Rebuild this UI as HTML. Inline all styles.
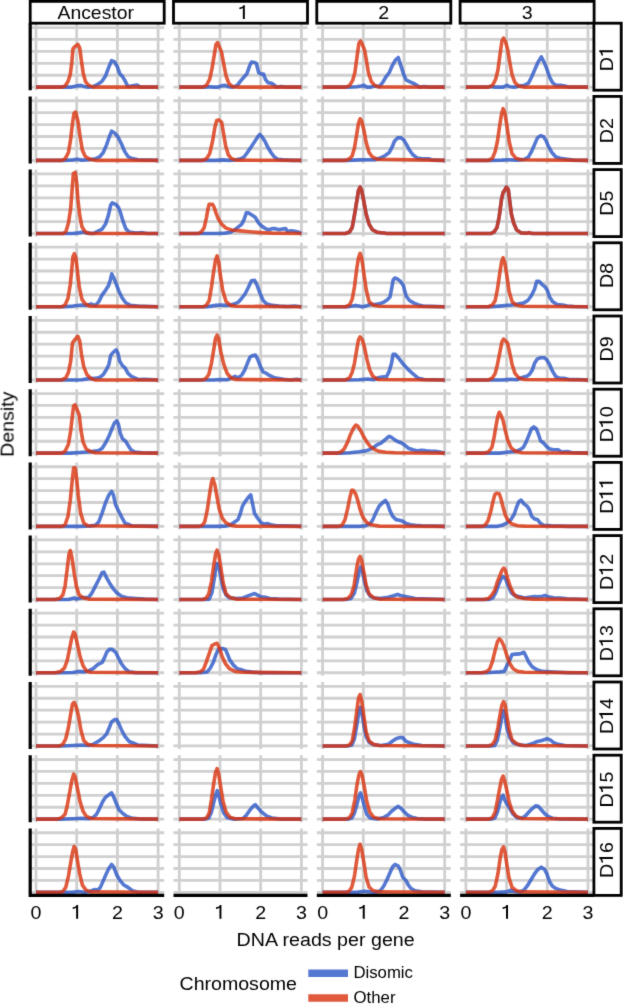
<!DOCTYPE html><html><head><meta charset="utf-8"><style>html,body{margin:0;padding:0;background:#fff;}#w{width:623px;height:1004px;overflow:hidden;}svg{display:block;}text{font-family:"Liberation Sans",sans-serif;fill:#000;}</style></head><body>
<div id="w">
<svg width="623" height="1004" viewBox="0 0 623 1004">
<defs><filter id="bl" x="0" y="0" width="1" height="1" color-interpolation-filters="sRGB"><feConvolveMatrix order="3" kernelMatrix="0.0113 0.0838 0.0113 0.0838 0.6193 0.0838 0.0113 0.0838 0.0113" divisor="1" edgeMode="duplicate"/></filter></defs>
<g filter="url(#bl)">
<rect x="0" y="0" width="623" height="1004" fill="#fff"/>
<path d="M30.2 87.15H164.2M30.2 75.23H164.2M30.2 63.31H164.2M30.2 51.39H164.2M30.2 39.47H164.2M30.2 27.55H164.2M36 23.2V90.2M76.7 23.2V90.2M117.4 23.2V90.2M158.1 23.2V90.2M173.5 87.15H307.5M173.5 75.23H307.5M173.5 63.31H307.5M173.5 51.39H307.5M173.5 39.47H307.5M173.5 27.55H307.5M179.3 23.2V90.2M220 23.2V90.2M260.7 23.2V90.2M301.4 23.2V90.2M316.8 87.15H450.8M316.8 75.23H450.8M316.8 63.31H450.8M316.8 51.39H450.8M316.8 39.47H450.8M316.8 27.55H450.8M322.6 23.2V90.2M363.3 23.2V90.2M404 23.2V90.2M444.7 23.2V90.2M460.1 87.15H594.1M460.1 75.23H594.1M460.1 63.31H594.1M460.1 51.39H594.1M460.1 39.47H594.1M460.1 27.55H594.1M465.9 23.2V90.2M506.6 23.2V90.2M547.3 23.2V90.2M588 23.2V90.2M30.2 160.35H164.2M30.2 148.43H164.2M30.2 136.51H164.2M30.2 124.59H164.2M30.2 112.67H164.2M30.2 100.75H164.2M36 96.4V163.4M76.7 96.4V163.4M117.4 96.4V163.4M158.1 96.4V163.4M173.5 160.35H307.5M173.5 148.43H307.5M173.5 136.51H307.5M173.5 124.59H307.5M173.5 112.67H307.5M173.5 100.75H307.5M179.3 96.4V163.4M220 96.4V163.4M260.7 96.4V163.4M301.4 96.4V163.4M316.8 160.35H450.8M316.8 148.43H450.8M316.8 136.51H450.8M316.8 124.59H450.8M316.8 112.67H450.8M316.8 100.75H450.8M322.6 96.4V163.4M363.3 96.4V163.4M404 96.4V163.4M444.7 96.4V163.4M460.1 160.35H594.1M460.1 148.43H594.1M460.1 136.51H594.1M460.1 124.59H594.1M460.1 112.67H594.1M460.1 100.75H594.1M465.9 96.4V163.4M506.6 96.4V163.4M547.3 96.4V163.4M588 96.4V163.4M30.2 233.55H164.2M30.2 221.63H164.2M30.2 209.71H164.2M30.2 197.79H164.2M30.2 185.87H164.2M30.2 173.95H164.2M36 169.6V236.6M76.7 169.6V236.6M117.4 169.6V236.6M158.1 169.6V236.6M173.5 233.55H307.5M173.5 221.63H307.5M173.5 209.71H307.5M173.5 197.79H307.5M173.5 185.87H307.5M173.5 173.95H307.5M179.3 169.6V236.6M220 169.6V236.6M260.7 169.6V236.6M301.4 169.6V236.6M316.8 233.55H450.8M316.8 221.63H450.8M316.8 209.71H450.8M316.8 197.79H450.8M316.8 185.87H450.8M316.8 173.95H450.8M322.6 169.6V236.6M363.3 169.6V236.6M404 169.6V236.6M444.7 169.6V236.6M460.1 233.55H594.1M460.1 221.63H594.1M460.1 209.71H594.1M460.1 197.79H594.1M460.1 185.87H594.1M460.1 173.95H594.1M465.9 169.6V236.6M506.6 169.6V236.6M547.3 169.6V236.6M588 169.6V236.6M30.2 306.75H164.2M30.2 294.83H164.2M30.2 282.91H164.2M30.2 270.99H164.2M30.2 259.07H164.2M30.2 247.15H164.2M36 242.8V309.8M76.7 242.8V309.8M117.4 242.8V309.8M158.1 242.8V309.8M173.5 306.75H307.5M173.5 294.83H307.5M173.5 282.91H307.5M173.5 270.99H307.5M173.5 259.07H307.5M173.5 247.15H307.5M179.3 242.8V309.8M220 242.8V309.8M260.7 242.8V309.8M301.4 242.8V309.8M316.8 306.75H450.8M316.8 294.83H450.8M316.8 282.91H450.8M316.8 270.99H450.8M316.8 259.07H450.8M316.8 247.15H450.8M322.6 242.8V309.8M363.3 242.8V309.8M404 242.8V309.8M444.7 242.8V309.8M460.1 306.75H594.1M460.1 294.83H594.1M460.1 282.91H594.1M460.1 270.99H594.1M460.1 259.07H594.1M460.1 247.15H594.1M465.9 242.8V309.8M506.6 242.8V309.8M547.3 242.8V309.8M588 242.8V309.8M30.2 379.95H164.2M30.2 368.03H164.2M30.2 356.11H164.2M30.2 344.19H164.2M30.2 332.27H164.2M30.2 320.35H164.2M36 316V383M76.7 316V383M117.4 316V383M158.1 316V383M173.5 379.95H307.5M173.5 368.03H307.5M173.5 356.11H307.5M173.5 344.19H307.5M173.5 332.27H307.5M173.5 320.35H307.5M179.3 316V383M220 316V383M260.7 316V383M301.4 316V383M316.8 379.95H450.8M316.8 368.03H450.8M316.8 356.11H450.8M316.8 344.19H450.8M316.8 332.27H450.8M316.8 320.35H450.8M322.6 316V383M363.3 316V383M404 316V383M444.7 316V383M460.1 379.95H594.1M460.1 368.03H594.1M460.1 356.11H594.1M460.1 344.19H594.1M460.1 332.27H594.1M460.1 320.35H594.1M465.9 316V383M506.6 316V383M547.3 316V383M588 316V383M30.2 453.15H164.2M30.2 441.23H164.2M30.2 429.31H164.2M30.2 417.39H164.2M30.2 405.47H164.2M30.2 393.55H164.2M36 389.2V456.2M76.7 389.2V456.2M117.4 389.2V456.2M158.1 389.2V456.2M173.5 453.15H307.5M173.5 441.23H307.5M173.5 429.31H307.5M173.5 417.39H307.5M173.5 405.47H307.5M173.5 393.55H307.5M179.3 389.2V456.2M220 389.2V456.2M260.7 389.2V456.2M301.4 389.2V456.2M316.8 453.15H450.8M316.8 441.23H450.8M316.8 429.31H450.8M316.8 417.39H450.8M316.8 405.47H450.8M316.8 393.55H450.8M322.6 389.2V456.2M363.3 389.2V456.2M404 389.2V456.2M444.7 389.2V456.2M460.1 453.15H594.1M460.1 441.23H594.1M460.1 429.31H594.1M460.1 417.39H594.1M460.1 405.47H594.1M460.1 393.55H594.1M465.9 389.2V456.2M506.6 389.2V456.2M547.3 389.2V456.2M588 389.2V456.2M30.2 526.35H164.2M30.2 514.43H164.2M30.2 502.51H164.2M30.2 490.59H164.2M30.2 478.67H164.2M30.2 466.75H164.2M36 462.4V529.4M76.7 462.4V529.4M117.4 462.4V529.4M158.1 462.4V529.4M173.5 526.35H307.5M173.5 514.43H307.5M173.5 502.51H307.5M173.5 490.59H307.5M173.5 478.67H307.5M173.5 466.75H307.5M179.3 462.4V529.4M220 462.4V529.4M260.7 462.4V529.4M301.4 462.4V529.4M316.8 526.35H450.8M316.8 514.43H450.8M316.8 502.51H450.8M316.8 490.59H450.8M316.8 478.67H450.8M316.8 466.75H450.8M322.6 462.4V529.4M363.3 462.4V529.4M404 462.4V529.4M444.7 462.4V529.4M460.1 526.35H594.1M460.1 514.43H594.1M460.1 502.51H594.1M460.1 490.59H594.1M460.1 478.67H594.1M460.1 466.75H594.1M465.9 462.4V529.4M506.6 462.4V529.4M547.3 462.4V529.4M588 462.4V529.4M30.2 599.55H164.2M30.2 587.63H164.2M30.2 575.71H164.2M30.2 563.79H164.2M30.2 551.87H164.2M30.2 539.95H164.2M36 535.6V602.6M76.7 535.6V602.6M117.4 535.6V602.6M158.1 535.6V602.6M173.5 599.55H307.5M173.5 587.63H307.5M173.5 575.71H307.5M173.5 563.79H307.5M173.5 551.87H307.5M173.5 539.95H307.5M179.3 535.6V602.6M220 535.6V602.6M260.7 535.6V602.6M301.4 535.6V602.6M316.8 599.55H450.8M316.8 587.63H450.8M316.8 575.71H450.8M316.8 563.79H450.8M316.8 551.87H450.8M316.8 539.95H450.8M322.6 535.6V602.6M363.3 535.6V602.6M404 535.6V602.6M444.7 535.6V602.6M460.1 599.55H594.1M460.1 587.63H594.1M460.1 575.71H594.1M460.1 563.79H594.1M460.1 551.87H594.1M460.1 539.95H594.1M465.9 535.6V602.6M506.6 535.6V602.6M547.3 535.6V602.6M588 535.6V602.6M30.2 672.75H164.2M30.2 660.83H164.2M30.2 648.91H164.2M30.2 636.99H164.2M30.2 625.07H164.2M30.2 613.15H164.2M36 608.8V675.8M76.7 608.8V675.8M117.4 608.8V675.8M158.1 608.8V675.8M173.5 672.75H307.5M173.5 660.83H307.5M173.5 648.91H307.5M173.5 636.99H307.5M173.5 625.07H307.5M173.5 613.15H307.5M179.3 608.8V675.8M220 608.8V675.8M260.7 608.8V675.8M301.4 608.8V675.8M316.8 672.75H450.8M316.8 660.83H450.8M316.8 648.91H450.8M316.8 636.99H450.8M316.8 625.07H450.8M316.8 613.15H450.8M322.6 608.8V675.8M363.3 608.8V675.8M404 608.8V675.8M444.7 608.8V675.8M460.1 672.75H594.1M460.1 660.83H594.1M460.1 648.91H594.1M460.1 636.99H594.1M460.1 625.07H594.1M460.1 613.15H594.1M465.9 608.8V675.8M506.6 608.8V675.8M547.3 608.8V675.8M588 608.8V675.8M30.2 745.95H164.2M30.2 734.03H164.2M30.2 722.11H164.2M30.2 710.19H164.2M30.2 698.27H164.2M30.2 686.35H164.2M36 682V749M76.7 682V749M117.4 682V749M158.1 682V749M173.5 745.95H307.5M173.5 734.03H307.5M173.5 722.11H307.5M173.5 710.19H307.5M173.5 698.27H307.5M173.5 686.35H307.5M179.3 682V749M220 682V749M260.7 682V749M301.4 682V749M316.8 745.95H450.8M316.8 734.03H450.8M316.8 722.11H450.8M316.8 710.19H450.8M316.8 698.27H450.8M316.8 686.35H450.8M322.6 682V749M363.3 682V749M404 682V749M444.7 682V749M460.1 745.95H594.1M460.1 734.03H594.1M460.1 722.11H594.1M460.1 710.19H594.1M460.1 698.27H594.1M460.1 686.35H594.1M465.9 682V749M506.6 682V749M547.3 682V749M588 682V749M30.2 819.15H164.2M30.2 807.23H164.2M30.2 795.31H164.2M30.2 783.39H164.2M30.2 771.47H164.2M30.2 759.55H164.2M36 755.2V822.2M76.7 755.2V822.2M117.4 755.2V822.2M158.1 755.2V822.2M173.5 819.15H307.5M173.5 807.23H307.5M173.5 795.31H307.5M173.5 783.39H307.5M173.5 771.47H307.5M173.5 759.55H307.5M179.3 755.2V822.2M220 755.2V822.2M260.7 755.2V822.2M301.4 755.2V822.2M316.8 819.15H450.8M316.8 807.23H450.8M316.8 795.31H450.8M316.8 783.39H450.8M316.8 771.47H450.8M316.8 759.55H450.8M322.6 755.2V822.2M363.3 755.2V822.2M404 755.2V822.2M444.7 755.2V822.2M460.1 819.15H594.1M460.1 807.23H594.1M460.1 795.31H594.1M460.1 783.39H594.1M460.1 771.47H594.1M460.1 759.55H594.1M465.9 755.2V822.2M506.6 755.2V822.2M547.3 755.2V822.2M588 755.2V822.2M30.2 892.35H164.2M30.2 880.43H164.2M30.2 868.51H164.2M30.2 856.59H164.2M30.2 844.67H164.2M30.2 832.75H164.2M36 828.4V895.4M76.7 828.4V895.4M117.4 828.4V895.4M158.1 828.4V895.4M173.5 892.35H307.5M173.5 880.43H307.5M173.5 868.51H307.5M173.5 856.59H307.5M173.5 844.67H307.5M173.5 832.75H307.5M179.3 828.4V895.4M220 828.4V895.4M260.7 828.4V895.4M301.4 828.4V895.4M316.8 892.35H450.8M316.8 880.43H450.8M316.8 868.51H450.8M316.8 856.59H450.8M316.8 844.67H450.8M316.8 832.75H450.8M322.6 828.4V895.4M363.3 828.4V895.4M404 828.4V895.4M444.7 828.4V895.4M460.1 892.35H594.1M460.1 880.43H594.1M460.1 868.51H594.1M460.1 856.59H594.1M460.1 844.67H594.1M460.1 832.75H594.1M465.9 828.4V895.4M506.6 828.4V895.4M547.3 828.4V895.4M588 828.4V895.4" stroke="#d0d0d0" stroke-width="2.8" fill="none"/>
<path d="M36 87.15 L63.96 87.15 L70.7 87.15 L76.31 86.03 L80.81 85.35 L84.18 86.48 L88.22 87.15 L93.17 86.7 L97.66 84.45 L102.16 81.08 L105.53 75.91 L108.45 68.05 L111.6 60.63 L114.52 61.98 L117.44 66.93 L119.69 73.67 L122.38 76.36 L125.08 80.86 L128 86.7 L132.49 85.8 L136.99 85.13 L140.36 87.15 L158.1 87.15" stroke="rgb(43,86,199)" stroke-opacity="0.8" stroke-width="3.6" fill="none" stroke-linejoin="round" stroke-linecap="butt"/>
<path d="M36 87.15 L61.71 87.15 L65.08 86.03 L68 81.53 L70.25 74.79 L71.82 62.43 L72.94 48.95 L75.19 46.25 L77.89 44.45 L79.69 47.82 L81.48 61.31 L83.28 73.67 L85.53 81.53 L88.67 85.35 L93.17 87.15 L158.1 87.15" stroke="rgb(217,49,11)" stroke-opacity="0.8" stroke-width="3.6" fill="none" stroke-linejoin="round" stroke-linecap="butt"/>
<path d="M179.3 87.15 L204.71 87.15 L210.33 86.7 L213.7 87.15 L218.19 87.15 L221.56 85.8 L224.93 85.35 L228.3 86.7 L232.8 87.15 L237.29 85.35 L240.66 80.86 L244.03 77.04 L246.96 73.67 L249.65 65.8 L251.45 61.98 L254.6 62.43 L256.39 63.55 L258.64 72.54 L260.89 74.12 L263.58 74.12 L265.38 79.28 L268.08 82.66 L271 83.11 L273.92 84.9 L276.62 87.15 L281.11 86.48 L285.61 87.15 L301.4 87.15" stroke="rgb(43,86,199)" stroke-opacity="0.8" stroke-width="3.6" fill="none" stroke-linejoin="round" stroke-linecap="butt"/>
<path d="M179.3 87.15 L202.46 87.15 L206.51 85.35 L209.65 79.28 L211.9 69.17 L214.15 55.69 L215.94 44.45 L217.52 42.66 L219.31 46.7 L221.56 52.32 L223.81 64.68 L226.06 75.91 L228.98 83.78 L232.8 86.7 L238.42 87.15 L301.4 87.15" stroke="rgb(217,49,11)" stroke-opacity="0.8" stroke-width="3.6" fill="none" stroke-linejoin="round" stroke-linecap="butt"/>
<path d="M322.6 87.15 L347.71 87.15 L356.7 86.7 L361.19 86.03 L363.89 85.35 L366.81 87.15 L370.18 87.15 L374.22 86.03 L379.17 86.7 L382.54 82.66 L385.91 77.04 L389.28 72.54 L392.2 65.8 L395.35 60.18 L398.27 57.49 L400.52 64.68 L403.44 73.67 L406.13 79.96 L409.51 81.53 L412.88 83.11 L416.25 84.9 L419.62 87.15 L424.11 86.48 L428.61 87.15 L444.7 87.15" stroke="rgb(43,86,199)" stroke-opacity="0.8" stroke-width="3.6" fill="none" stroke-linejoin="round" stroke-linecap="butt"/>
<path d="M322.6 87.15 L345.46 87.15 L349.51 85.58 L352.65 80.41 L354.9 72.54 L357.15 55.69 L358.94 43.33 L360.52 41.08 L362.31 44.45 L364.56 50.07 L366.36 60.18 L368.38 72.54 L371.3 81.53 L374.67 85.35 L379.17 86.93 L444.7 87.15" stroke="rgb(217,49,11)" stroke-opacity="0.8" stroke-width="3.6" fill="none" stroke-linejoin="round" stroke-linecap="butt"/>
<path d="M465.9 87.15 L486.21 87.15 L490.71 86.48 L495.2 87.15 L503.07 87.15 L506.89 85.35 L509.81 86.7 L514.3 87.15 L519.92 86.03 L524.42 85.35 L528.46 83.11 L531.61 77.04 L534.53 70.3 L537.9 62.43 L541.27 56.81 L544.19 62.43 L546.89 69.17 L549.58 77.04 L552.51 82.66 L555.88 85.35 L560.37 85.35 L564.87 86.03 L569.36 87.15 L588 87.15" stroke="rgb(43,86,199)" stroke-opacity="0.8" stroke-width="3.6" fill="none" stroke-linejoin="round" stroke-linecap="butt"/>
<path d="M465.9 87.15 L488.46 87.15 L492.51 85.35 L495.65 79.28 L497.9 70.3 L500.15 53.44 L501.94 41.08 L503.52 38.16 L505.31 41.08 L507.56 48.95 L509.81 62.43 L512.06 74.79 L514.98 82.66 L518.8 86.03 L524.42 87.15 L588 87.15" stroke="rgb(217,49,11)" stroke-opacity="0.8" stroke-width="3.6" fill="none" stroke-linejoin="round" stroke-linecap="butt"/>
<path d="M36 160.35 L63.96 160.35 L72.94 159.9 L77.44 159.23 L81.93 160.13 L88.67 159.68 L95.42 158.78 L99.91 156.53 L103.28 152.48 L106.65 144.62 L109.35 136.75 L111.6 131.14 L114.52 132.93 L117.89 136.75 L121.26 143.5 L124.63 151.36 L128 156.53 L131.37 158.33 L138.11 159.68 L158.1 160.35" stroke="rgb(43,86,199)" stroke-opacity="0.8" stroke-width="3.6" fill="none" stroke-linejoin="round" stroke-linecap="butt"/>
<path d="M36 160.35 L61.71 160.35 L65.08 158.78 L68.45 152.48 L70.7 139 L72.49 123.27 L74.07 113.16 L75.64 112.04 L77.89 121.02 L80.13 136.75 L82.38 150.24 L85.3 156.53 L89.8 159.23 L95.42 160.35 L158.1 160.35" stroke="rgb(217,49,11)" stroke-opacity="0.8" stroke-width="3.6" fill="none" stroke-linejoin="round" stroke-linecap="butt"/>
<path d="M179.3 160.35 L204.71 160.35 L215.94 160.35 L222.69 159.9 L229.43 160.35 L236.17 159.68 L240.66 158.78 L244.03 156.98 L247.4 152.48 L250.78 147.54 L254.15 142.37 L257.52 137.2 L259.76 134.51 L262.01 136.75 L264.93 141.25 L267.63 146.87 L271 152.48 L274.37 156.98 L277.74 159.23 L283.36 159.9 L292.35 160.35 L301.4 160.35" stroke="rgb(43,86,199)" stroke-opacity="0.8" stroke-width="3.6" fill="none" stroke-linejoin="round" stroke-linecap="butt"/>
<path d="M179.3 160.35 L202.46 160.35 L206.51 158.78 L209.65 153.61 L212.57 141.25 L214.82 127.77 L216.62 120.57 L218.64 119.9 L221.56 122.15 L223.36 132.26 L225.61 145.74 L228.3 154.73 L231.67 158.78 L236.17 160.13 L301.4 160.35" stroke="rgb(217,49,11)" stroke-opacity="0.8" stroke-width="3.6" fill="none" stroke-linejoin="round" stroke-linecap="butt"/>
<path d="M322.6 160.35 L347.71 160.35 L358.94 159.9 L367.93 159.68 L374.67 159.68 L380.29 158.1 L384.79 155.86 L389.28 152.48 L392.2 146.87 L394.45 141.25 L397.6 137.88 L401.19 137.88 L403.89 140.13 L406.58 144.62 L409.51 150.24 L412.88 154.73 L417.37 158.1 L421.87 158.78 L428.61 158.78 L433.1 160.13 L444.7 160.35" stroke="rgb(43,86,199)" stroke-opacity="0.8" stroke-width="3.6" fill="none" stroke-linejoin="round" stroke-linecap="butt"/>
<path d="M322.6 160.35 L345.46 160.35 L349.51 158.78 L352.2 155.86 L354.45 147.99 L356.7 134.51 L358.49 123.27 L360.07 118.78 L361.64 121.02 L363.89 130.01 L366.13 142.37 L369.06 152.48 L372.43 156.98 L376.92 159.23 L444.7 160.35" stroke="rgb(217,49,11)" stroke-opacity="0.8" stroke-width="3.6" fill="none" stroke-linejoin="round" stroke-linecap="butt"/>
<path d="M465.9 160.35 L490.71 160.35 L501.94 160.13 L508.69 159.68 L517.67 160.13 L524.42 159.23 L528.46 156.98 L531.61 151.36 L534.53 144.62 L537.45 137.88 L540.6 135.63 L543.52 136.75 L545.76 140.13 L548.69 146.87 L551.83 152.48 L555.88 156.98 L560.37 158.33 L567.11 159.23 L573.85 160.13 L588 160.35" stroke="rgb(43,86,199)" stroke-opacity="0.8" stroke-width="3.6" fill="none" stroke-linejoin="round" stroke-linecap="butt"/>
<path d="M465.9 160.35 L488.46 160.35 L492.51 158.1 L495.2 151.36 L497.45 141.25 L499.7 125.52 L501.49 114.28 L503.07 108.66 L504.64 112.04 L506.89 125.52 L509.13 141.25 L512.06 153.61 L515.88 158.1 L521.04 159.68 L588 160.35" stroke="rgb(217,49,11)" stroke-opacity="0.8" stroke-width="3.6" fill="none" stroke-linejoin="round" stroke-linecap="butt"/>
<path d="M36 233.55 L63.96 233.55 L72.94 233.55 L78.56 232.88 L83.06 231.98 L86.88 233.1 L93.17 233.55 L97.66 231.3 L102.16 229.06 L105.53 224.11 L108.45 215.12 L110.7 205.01 L112.27 202.76 L115.64 204.34 L118.34 207.26 L120.58 212.88 L122.83 220.74 L125.75 228.61 L129.12 231.98 L135.87 233.1 L142.61 232.65 L147.1 233.55 L158.1 233.55" stroke="rgb(43,86,199)" stroke-opacity="0.8" stroke-width="3.6" fill="none" stroke-linejoin="round" stroke-linecap="butt"/>
<path d="M36 233.55 L62.83 233.55 L65.75 231.98 L68.45 222.99 L70.7 208.38 L72.04 190.4 L73.39 173.55 L75.19 172.43 L76.54 181.42 L77.89 199.39 L79.69 215.12 L81.93 226.81 L85.3 231.98 L89.8 233.55 L158.1 233.55" stroke="rgb(217,49,11)" stroke-opacity="0.8" stroke-width="3.6" fill="none" stroke-linejoin="round" stroke-linecap="butt"/>
<path d="M179.3 233.55 L204.71 233.55 L215.94 233.55 L224.93 233.1 L230.55 232.2 L235.04 229.73 L238.42 226.81 L241.79 224.11 L244.03 219.62 L246.28 212.88 L248.53 212.88 L251.9 215.12 L255.27 217.37 L258.64 222.99 L262.01 226.36 L265.38 228.61 L268.75 229.73 L272.12 228.61 L275.49 228.61 L278.87 229.73 L282.24 229.06 L285.61 228.61 L287.85 231.53 L291.22 230.85 L294.6 231.3 L297.97 231.98 L301.4 233.55" stroke="rgb(43,86,199)" stroke-opacity="0.8" stroke-width="3.6" fill="none" stroke-linejoin="round" stroke-linecap="butt"/>
<path d="M179.3 233.55 L197.97 233.55 L201.34 231.98 L204.26 227.48 L206.51 217.37 L208.08 208.38 L209.2 204.34 L212.57 204.34 L214.15 207.26 L215.94 212.88 L218.19 218.49 L221.56 224.11 L226.06 228.16 L231.67 229.95 L240.66 230.85 L249.65 231.75 L260.89 232.65 L272.12 233.1 L301.4 233.55" stroke="rgb(217,49,11)" stroke-opacity="0.8" stroke-width="3.6" fill="none" stroke-linejoin="round" stroke-linecap="butt"/>
<path d="M322.6 233.55 L345.46 233.55 L349.51 231.98 L352.2 227.48 L354.45 215.12 L356.7 201.64 L358.49 190.4 L360.07 187.03 L361.64 190.4 L363.89 201.64 L366.13 214 L369.06 224.11 L372.43 229.73 L376.92 232.2 L385.91 233.33 L444.7 233.55" stroke="rgb(43,86,199)" stroke-opacity="0.8" stroke-width="3.6" fill="none" stroke-linejoin="round" stroke-linecap="butt"/>
<path d="M322.6 233.55 L345.46 233.55 L349.51 231.98 L352.2 227.48 L354.45 215.12 L356.7 201.64 L358.49 190.4 L360.07 187.03 L361.64 190.4 L363.89 201.64 L366.13 214 L369.06 224.11 L372.43 229.73 L376.92 232.2 L385.91 233.33 L444.7 233.55" stroke="rgb(217,49,11)" stroke-opacity="0.8" stroke-width="3.6" fill="none" stroke-linejoin="round" stroke-linecap="butt"/>
<path d="M465.9 233.55 L490.71 233.55 L494.08 231.98 L497 227.48 L499.25 216.25 L501.49 199.39 L503.07 192.65 L504.64 190.4 L506.44 187.03 L508.24 189.28 L509.81 201.64 L511.38 214 L513.63 222.99 L516.55 229.73 L521.04 232.88 L526.66 233.33 L528.91 232.65 L532.28 233.55 L588 233.55" stroke="rgb(43,86,199)" stroke-opacity="0.8" stroke-width="3.6" fill="none" stroke-linejoin="round" stroke-linecap="butt"/>
<path d="M465.9 233.55 L490.71 233.55 L494.08 231.98 L497 227.48 L499.25 216.25 L501.49 199.39 L503.07 192.65 L504.64 190.4 L506.44 187.03 L508.24 189.28 L509.81 201.64 L511.38 214 L513.63 222.99 L516.55 229.73 L521.04 232.88 L526.66 233.33 L528.91 232.65 L532.28 233.55 L588 233.55" stroke="rgb(217,49,11)" stroke-opacity="0.8" stroke-width="3.6" fill="none" stroke-linejoin="round" stroke-linecap="butt"/>
<path d="M36 306.75 L63.96 306.75 L72.94 306.08 L81.93 304.95 L86.43 305.4 L90.92 304.05 L95.42 305.4 L98.79 301.58 L102.16 294.84 L105.53 290.35 L108.45 285.85 L110.25 280.23 L111.82 273.94 L113.84 277.99 L116.09 283.6 L119.01 291.47 L122.38 298.21 L125.75 302.71 L130.25 305.4 L138.11 306.08 L158.1 306.75" stroke="rgb(43,86,199)" stroke-opacity="0.8" stroke-width="3.6" fill="none" stroke-linejoin="round" stroke-linecap="butt"/>
<path d="M36 306.75 L61.71 306.75 L65.08 304.95 L68 298.21 L70.25 284.73 L71.82 269 L72.94 256.64 L74.29 253.72 L75.87 257.76 L77.44 271.24 L79.24 286.97 L81.93 299.33 L85.3 303.83 L89.8 306.08 L158.1 306.75" stroke="rgb(217,49,11)" stroke-opacity="0.8" stroke-width="3.6" fill="none" stroke-linejoin="round" stroke-linecap="butt"/>
<path d="M179.3 306.75 L206.96 306.75 L215.94 305.4 L220.44 304.95 L226.06 305.4 L230.55 304.95 L235.04 303.83 L238.42 302.03 L241.79 298.21 L245.16 293.72 L248.53 286.97 L251.45 280.68 L254.6 280.23 L256.84 284.73 L259.76 292.59 L263.13 300.46 L266.51 303.83 L272.12 305.4 L278.87 306.08 L287.85 306.53 L294.6 306.08 L301.4 306.75" stroke="rgb(43,86,199)" stroke-opacity="0.8" stroke-width="3.6" fill="none" stroke-linejoin="round" stroke-linecap="butt"/>
<path d="M179.3 306.75 L203.58 306.75 L206.51 304.95 L209.2 300.46 L211.45 286.97 L213.7 271.24 L215.49 260.01 L217.07 255.96 L218.64 262.26 L220.44 275.74 L222.69 290.35 L226.06 301.58 L230.55 305.4 L236.17 306.3 L301.4 306.75" stroke="rgb(217,49,11)" stroke-opacity="0.8" stroke-width="3.6" fill="none" stroke-linejoin="round" stroke-linecap="butt"/>
<path d="M322.6 306.75 L347.71 306.75 L352.2 306.08 L355.57 305.4 L358.94 306.08 L362.31 306.75 L366.81 305.63 L370.18 304.5 L374.67 304.5 L379.17 303.83 L383.66 302.26 L387.03 300.01 L389.96 297.09 L391.53 289.22 L393.1 280.23 L394.9 277.99 L397.6 279.11 L400.52 281.36 L403.44 285.85 L406.13 295.96 L409.51 300.46 L414 303.15 L418.49 304.95 L422.99 306.08 L444.7 306.75" stroke="rgb(43,86,199)" stroke-opacity="0.8" stroke-width="3.6" fill="none" stroke-linejoin="round" stroke-linecap="butt"/>
<path d="M322.6 306.75 L345.46 306.75 L349.51 304.95 L352.2 299.33 L354.45 286.97 L356.7 269 L358.49 257.76 L360.07 253.27 L361.64 257.76 L363.89 273.49 L366.13 289.22 L369.06 301.58 L372.88 304.95 L379.17 306.3 L444.7 306.75" stroke="rgb(217,49,11)" stroke-opacity="0.8" stroke-width="3.6" fill="none" stroke-linejoin="round" stroke-linecap="butt"/>
<path d="M465.9 306.75 L490.71 306.75 L501.94 305.85 L510.93 304.95 L517.67 304.05 L523.29 303.15 L527.79 300.46 L531.16 295.96 L534.53 289.22 L536.78 281.36 L539.02 281.36 L541.94 284.28 L545.09 286.97 L547.34 290.35 L549.58 297.09 L552.51 301.58 L557 304.5 L562.62 304.95 L567.11 306.08 L573.85 306.53 L588 306.75" stroke="rgb(43,86,199)" stroke-opacity="0.8" stroke-width="3.6" fill="none" stroke-linejoin="round" stroke-linecap="butt"/>
<path d="M465.9 306.75 L488.46 306.75 L492.51 304.95 L495.2 300.46 L497.45 289.22 L499.7 273.49 L501.49 262.26 L503.07 257.76 L504.64 262.26 L506.89 275.74 L509.13 291.47 L512.06 301.58 L515.88 304.95 L522.17 306.3 L588 306.75" stroke="rgb(217,49,11)" stroke-opacity="0.8" stroke-width="3.6" fill="none" stroke-linejoin="round" stroke-linecap="butt"/>
<path d="M36 379.95 L63.96 379.95 L72.94 379.95 L81.93 379.73 L88.67 378.6 L95.42 378.38 L99.91 377.25 L103.28 374.56 L106.2 370.06 L108.9 364.44 L110.7 355.46 L113.39 352.08 L116.09 349.84 L117.89 353.21 L119.69 361.07 L122.38 365.57 L125.08 367.82 L128 373.43 L131.37 376.35 L134.74 377.93 L138.11 379.5 L144.85 379.28 L158.1 379.95" stroke="rgb(43,86,199)" stroke-opacity="0.8" stroke-width="3.6" fill="none" stroke-linejoin="round" stroke-linecap="butt"/>
<path d="M36 379.95 L61.71 379.95 L65.75 377.93 L68.45 372.31 L70.7 361.07 L72.49 343.1 L74.74 339.73 L77.89 336.35 L79.69 340.85 L81.48 354.33 L83.73 366.69 L86.88 374.56 L90.92 378.6 L95.42 379.95 L158.1 379.95" stroke="rgb(217,49,11)" stroke-opacity="0.8" stroke-width="3.6" fill="none" stroke-linejoin="round" stroke-linecap="butt"/>
<path d="M179.3 379.95 L204.71 379.95 L213.7 379.95 L220.44 379.5 L227.18 379.73 L231.67 377.93 L235.04 376.35 L238.42 377.93 L241.79 375.01 L244.71 370.06 L247.4 363.32 L250.1 357.03 L253.02 355.46 L255.27 355.01 L257.52 358.83 L260.44 366.69 L263.13 371.86 L266.51 373.43 L269.88 375.68 L273.25 377.25 L277.74 378.38 L283.36 379.28 L290.1 379.95 L296.84 379.28 L301.4 379.95" stroke="rgb(43,86,199)" stroke-opacity="0.8" stroke-width="3.6" fill="none" stroke-linejoin="round" stroke-linecap="butt"/>
<path d="M179.3 379.95 L202.46 379.95 L205.83 378.6 L208.75 374.56 L211.45 363.32 L213.7 349.84 L215.49 338.6 L217.07 335.23 L218.64 338.6 L220.89 352.08 L223.81 364.44 L227.18 373.43 L231.22 377.93 L236.17 379.5 L301.4 379.95" stroke="rgb(217,49,11)" stroke-opacity="0.8" stroke-width="3.6" fill="none" stroke-linejoin="round" stroke-linecap="butt"/>
<path d="M322.6 379.95 L347.71 379.95 L358.94 379.73 L367.93 379.05 L373.55 379.73 L379.17 377.48 L383.66 376.8 L386.36 376.8 L389.28 371.19 L391.53 363.32 L393.1 354.33 L395.35 354.33 L398.27 357.7 L401.64 362.2 L405.01 366.02 L408.38 369.61 L411.75 372.76 L415.12 375.68 L418.49 378.38 L424.11 379.5 L444.7 379.95" stroke="rgb(43,86,199)" stroke-opacity="0.8" stroke-width="3.6" fill="none" stroke-linejoin="round" stroke-linecap="butt"/>
<path d="M322.6 379.95 L345.46 379.95 L349.51 377.93 L352.2 372.31 L354.45 363.32 L356.7 349.84 L358.49 339.73 L360.07 336.8 L362.31 339.73 L364.56 347.59 L366.81 358.83 L369.73 370.06 L372.88 376.35 L378.04 379.5 L444.7 379.95" stroke="rgb(217,49,11)" stroke-opacity="0.8" stroke-width="3.6" fill="none" stroke-linejoin="round" stroke-linecap="butt"/>
<path d="M465.9 379.95 L490.71 379.95 L501.94 379.95 L510.93 379.28 L516.55 379.73 L522.17 377.48 L526.66 376.35 L529.36 374.56 L532.28 370.06 L534.53 363.32 L537.45 358.83 L540.6 357.7 L544.19 357.7 L546.89 359.95 L549.58 364.44 L552.51 371.19 L555.88 376.8 L559.25 377.93 L564.87 378.38 L569.36 379.5 L578.35 379.5 L588 379.95" stroke="rgb(43,86,199)" stroke-opacity="0.8" stroke-width="3.6" fill="none" stroke-linejoin="round" stroke-linecap="butt"/>
<path d="M465.9 379.95 L488.46 379.95 L492.51 377.93 L495.2 373.43 L497.45 364.44 L500.15 350.96 L501.94 341.97 L503.52 339.05 L505.31 340.85 L507.56 343.1 L509.81 353.21 L512.06 364.44 L514.98 373.43 L518.8 377.93 L524.42 379.5 L588 379.95" stroke="rgb(217,49,11)" stroke-opacity="0.8" stroke-width="3.6" fill="none" stroke-linejoin="round" stroke-linecap="butt"/>
<path d="M36 453.15 L63.96 453.15 L70.7 453.15 L79.69 452.48 L86.43 452.03 L93.17 451.35 L98.79 450.45 L102.16 448.21 L105.53 443.04 L108.9 436.3 L111.6 429.55 L114.52 422.81 L116.76 420.79 L118.34 423.94 L120.13 432.93 L122.38 438.54 L125.75 441.46 L128 445.28 L130.92 449.78 L134.74 452.03 L142.61 452.7 L158.1 453.15" stroke="rgb(43,86,199)" stroke-opacity="0.8" stroke-width="3.6" fill="none" stroke-linejoin="round" stroke-linecap="butt"/>
<path d="M36 453.15 L61.71 453.15 L65.08 451.35 L68.45 444.16 L70.7 430.68 L72.49 414.95 L73.62 405.96 L75.19 404.84 L76.99 409.33 L79.24 414.95 L81.03 430.68 L83.06 441.91 L85.98 448.66 L89.8 451.35 L95.42 452.7 L158.1 453.15" stroke="rgb(217,49,11)" stroke-opacity="0.8" stroke-width="3.6" fill="none" stroke-linejoin="round" stroke-linecap="butt"/>
<path d="M322.6 453.15 L340.97 453.15 L349.96 452.7 L358.94 451.8 L365.69 450.9 L370.18 449.33 L373.55 447.53 L376.92 444.84 L380.97 443.04 L383.66 440.79 L386.36 438.54 L389.28 436.3 L391.53 437.42 L394.45 439.67 L397.6 441.46 L401.64 443.04 L405.01 445.28 L408.38 448.21 L412.88 449.78 L417.37 450.9 L421.87 450.23 L426.36 450.9 L430.85 451.35 L435.35 451.35 L439.84 452.03 L444.7 453.15" stroke="rgb(43,86,199)" stroke-opacity="0.8" stroke-width="3.6" fill="none" stroke-linejoin="round" stroke-linecap="butt"/>
<path d="M322.6 453.15 L336.47 453.15 L340.97 452.03 L344.34 448.66 L347.71 441.91 L350.4 434.72 L353.33 428.43 L355.8 425.06 L357.82 426.18 L360.74 430.68 L363.44 436.3 L366.81 441.91 L370.18 446.41 L374.22 449.33 L379.17 451.35 L385.91 452.25 L394.9 452.7 L444.7 453.15" stroke="rgb(217,49,11)" stroke-opacity="0.8" stroke-width="3.6" fill="none" stroke-linejoin="round" stroke-linecap="butt"/>
<path d="M465.9 453.15 L488.46 453.15 L499.7 453.15 L508.69 452.03 L515.43 451.35 L519.92 449.78 L523.29 447.53 L526.21 441.91 L528.91 435.17 L531.61 428.43 L533.85 426.86 L536.1 428.43 L538.35 434.05 L540.6 440.79 L543.52 443.04 L546.44 446.41 L549.13 448.66 L553.18 449.78 L558.12 449.78 L561.49 452.03 L567.11 451.58 L571.61 452.48 L588 453.15" stroke="rgb(43,86,199)" stroke-opacity="0.8" stroke-width="3.6" fill="none" stroke-linejoin="round" stroke-linecap="butt"/>
<path d="M465.9 453.15 L483.97 453.15 L488.46 452.03 L491.83 447.53 L494.08 437.42 L496.33 423.94 L497.9 416.07 L499.25 412.25 L500.82 414.95 L503.07 420.57 L505.31 430.68 L507.56 439.67 L510.93 447.53 L515.43 451.35 L522.17 452.7 L588 453.15" stroke="rgb(217,49,11)" stroke-opacity="0.8" stroke-width="3.6" fill="none" stroke-linejoin="round" stroke-linecap="butt"/>
<path d="M36 526.35 L63.96 526.35 L79.69 526.35 L90.92 525.9 L95.42 525.23 L98.79 521.86 L102.16 512.87 L105.53 502.75 L108.9 494.89 L111.6 491.52 L113.39 494.89 L115.64 505 L119.01 511.74 L122.38 518.48 L125.08 523.43 L128 524.1 L131.37 525.68 L158.1 526.35" stroke="rgb(43,86,199)" stroke-opacity="0.8" stroke-width="3.6" fill="none" stroke-linejoin="round" stroke-linecap="butt"/>
<path d="M36 526.35 L61.71 526.35 L65.08 524.78 L68 516.24 L70.25 500.51 L72.04 482.53 L73.62 467.92 L75.19 467.92 L76.54 478.04 L78.34 496.01 L80.58 512.87 L83.73 522.98 L87.55 525.68 L158.1 526.35" stroke="rgb(217,49,11)" stroke-opacity="0.8" stroke-width="3.6" fill="none" stroke-linejoin="round" stroke-linecap="butt"/>
<path d="M179.3 526.35 L202.46 526.35 L215.94 526.35 L224.93 526.13 L230.55 524.78 L233.92 522.53 L237.97 519.61 L240.21 513.99 L242.46 506.13 L245.16 501.63 L248.53 497.14 L250.78 494.89 L252.35 502.75 L254.6 513.54 L257.52 518.04 L260.89 522.53 L264.26 524.1 L267.63 523.65 L271 524.78 L276.62 525.68 L283.36 525.68 L301.4 526.35" stroke="rgb(43,86,199)" stroke-opacity="0.8" stroke-width="3.6" fill="none" stroke-linejoin="round" stroke-linecap="butt"/>
<path d="M179.3 526.35 L199.09 526.35 L202.46 525.23 L204.71 521.86 L207.4 509.5 L209.65 493.77 L211.45 482.53 L212.8 478.48 L214.82 484.78 L217.07 497.14 L219.31 509.5 L222.24 518.04 L226.06 522.98 L230.55 525.23 L236.17 526.13 L301.4 526.35" stroke="rgb(217,49,11)" stroke-opacity="0.8" stroke-width="3.6" fill="none" stroke-linejoin="round" stroke-linecap="butt"/>
<path d="M322.6 526.35 L343.21 526.35 L358.94 526.35 L365.69 525.68 L370.18 523.65 L372.88 519.61 L375.8 512.87 L379.17 506.13 L382.54 502.75 L385.46 500.51 L387.71 503.88 L389.96 510.62 L392.65 516.24 L396.02 519.61 L399.39 520.28 L402.76 521.18 L406.13 523.43 L410.63 524.78 L415.12 525.23 L421.87 525.68 L444.7 526.35" stroke="rgb(43,86,199)" stroke-opacity="0.8" stroke-width="3.6" fill="none" stroke-linejoin="round" stroke-linecap="butt"/>
<path d="M322.6 526.35 L338.72 526.35 L342.09 525.23 L345.01 519.61 L347.71 508.37 L349.96 497.14 L351.75 490.39 L353.33 490.39 L355.57 493.77 L357.82 500.51 L360.07 509.5 L362.99 517.36 L366.81 522.53 L371.3 524.78 L379.17 526.13 L444.7 526.35" stroke="rgb(217,49,11)" stroke-opacity="0.8" stroke-width="3.6" fill="none" stroke-linejoin="round" stroke-linecap="butt"/>
<path d="M465.9 526.35 L486.21 526.35 L497.45 526.35 L501.94 525.23 L506.44 523.43 L510.93 519.61 L514.3 513.99 L516.55 507.25 L518.8 501.63 L521.04 500.06 L523.97 503.88 L527.11 506.13 L529.36 509.5 L531.61 516.24 L534.53 518.93 L537.45 519.61 L540.15 522.98 L543.52 525.23 L551.38 525.9 L560.37 526.13 L569.36 526.35 L588 526.35" stroke="rgb(43,86,199)" stroke-opacity="0.8" stroke-width="3.6" fill="none" stroke-linejoin="round" stroke-linecap="butt"/>
<path d="M465.9 526.35 L481.72 526.35 L485.09 525.23 L488.01 520.73 L490.71 511.74 L492.96 501.63 L494.75 494.89 L496.33 493.32 L499.25 493.77 L500.82 498.26 L503.07 507.25 L505.31 515.11 L508.24 520.73 L512.06 524.1 L517.67 525.68 L524.42 526.13 L588 526.35" stroke="rgb(217,49,11)" stroke-opacity="0.8" stroke-width="3.6" fill="none" stroke-linejoin="round" stroke-linecap="butt"/>
<path d="M36 599.55 L59.46 599.55 L68.45 599.55 L74.07 597.98 L76.31 599.1 L81.93 597.75 L88.67 597.3 L92.04 592.81 L95.42 586.07 L99.46 578.2 L102.16 572.58 L103.96 572.13 L106.2 577.08 L109.35 582.7 L112.94 588.31 L116.76 592.81 L121.26 596.18 L126.88 597.75 L135.87 598.43 L144.85 599.1 L158.1 599.55" stroke="rgb(43,86,199)" stroke-opacity="0.8" stroke-width="3.6" fill="none" stroke-linejoin="round" stroke-linecap="butt"/>
<path d="M36 599.55 L54.97 599.55 L59.46 598.43 L62.83 595.06 L65.08 586.07 L67.33 568.09 L68.9 554.61 L70.25 550.56 L71.82 556.85 L74.07 572.58 L76.31 586.07 L79.24 595.06 L83.06 597.75 L88.67 599.1 L158.1 599.55" stroke="rgb(217,49,11)" stroke-opacity="0.8" stroke-width="3.6" fill="none" stroke-linejoin="round" stroke-linecap="butt"/>
<path d="M179.3 599.55 L204.71 599.55 L209.2 599.1 L211.9 592.81 L214.15 579.33 L215.94 568.09 L217.07 563.59 L218.64 565.84 L220.89 577.08 L223.13 588.31 L226.06 595.06 L229.43 597.75 L236.17 598.43 L242.91 597.98 L247.4 596.18 L251.45 594.61 L254.6 593.48 L257.52 595.06 L260.89 596.85 L265.38 597.3 L269.88 598.43 L278.87 599.1 L301.4 599.55" stroke="rgb(43,86,199)" stroke-opacity="0.8" stroke-width="3.6" fill="none" stroke-linejoin="round" stroke-linecap="butt"/>
<path d="M179.3 599.55 L202.46 599.55 L205.83 598.43 L208.75 593.93 L211.45 581.57 L213.7 565.84 L215.49 554.61 L217.07 550.11 L218.64 554.61 L220.89 568.09 L223.13 582.7 L226.06 593.93 L230.55 597.75 L236.17 599.1 L301.4 599.55" stroke="rgb(217,49,11)" stroke-opacity="0.8" stroke-width="3.6" fill="none" stroke-linejoin="round" stroke-linecap="butt"/>
<path d="M322.6 599.55 L345.46 599.55 L351.08 598.43 L354.45 592.81 L357.15 581.57 L358.94 572.58 L360.52 566.97 L362.31 570.34 L364.56 581.57 L366.81 590.56 L370.18 596.18 L374.67 598.2 L381.42 598.2 L388.16 597.3 L393.78 595.73 L397.6 594.38 L400.52 595.51 L405.01 596.4 L409.51 597.3 L415.12 598.43 L444.7 599.55" stroke="rgb(43,86,199)" stroke-opacity="0.8" stroke-width="3.6" fill="none" stroke-linejoin="round" stroke-linecap="butt"/>
<path d="M322.6 599.55 L343.21 599.55 L347.71 598.43 L351.08 595.06 L354 586.07 L356.7 568.09 L358.49 559.1 L360.07 556.4 L361.64 560.22 L363.89 572.58 L366.13 584.94 L369.06 593.93 L373.55 597.75 L379.17 599.1 L444.7 599.55" stroke="rgb(217,49,11)" stroke-opacity="0.8" stroke-width="3.6" fill="none" stroke-linejoin="round" stroke-linecap="butt"/>
<path d="M465.9 599.55 L488.46 599.55 L492.96 597.75 L495.65 592.81 L498.57 584.94 L500.82 579.33 L503.07 576.63 L505.31 578.2 L508.24 586.07 L511.38 592.81 L514.98 595.73 L519.92 596.85 L524.42 597.98 L528.91 597.3 L534.53 596.63 L539.02 596.85 L542.39 596.18 L545.09 595.51 L548.01 596.85 L553.63 597.75 L560.37 597.98 L567.11 598.88 L588 599.55" stroke="rgb(43,86,199)" stroke-opacity="0.8" stroke-width="3.6" fill="none" stroke-linejoin="round" stroke-linecap="butt"/>
<path d="M465.9 599.55 L483.97 599.55 L488.46 598.43 L491.83 595.06 L494.75 590.56 L497.45 581.57 L500.15 574.83 L501.94 570.34 L503.74 568.09 L505.31 570.34 L507.56 578.2 L510.48 587.19 L513.63 593.93 L517.67 597.3 L524.42 598.43 L533.4 599.1 L588 599.55" stroke="rgb(217,49,11)" stroke-opacity="0.8" stroke-width="3.6" fill="none" stroke-linejoin="round" stroke-linecap="butt"/>
<path d="M36 672.75 L59.46 672.75 L72.94 672.53 L78.56 671.4 L84.18 671.85 L88.67 670.95 L93.17 668.71 L97.66 664.66 L102.16 662.41 L104.4 657.92 L106.65 652.3 L109.35 649.38 L112.27 649.38 L115.64 652.3 L117.89 656.79 L121.26 663.54 L124.63 668.03 L129.12 671.85 L135.87 672.75 L158.1 672.75" stroke="rgb(43,86,199)" stroke-opacity="0.8" stroke-width="3.6" fill="none" stroke-linejoin="round" stroke-linecap="butt"/>
<path d="M36 672.75 L54.97 672.75 L60.58 671.4 L64.4 668.03 L67.33 660.17 L69.57 648.93 L71.82 637.69 L73.62 632.08 L75.19 634.32 L77.44 644.44 L80.13 656.79 L83.06 665.78 L86.43 670.95 L90.92 672.3 L158.1 672.75" stroke="rgb(217,49,11)" stroke-opacity="0.8" stroke-width="3.6" fill="none" stroke-linejoin="round" stroke-linecap="butt"/>
<path d="M179.3 672.75 L200.21 672.75 L206.96 672.08 L210.33 668.03 L213.25 662.41 L215.94 654.55 L218.64 648.93 L222.24 648.48 L225.38 649.38 L227.63 654.55 L229.88 660.17 L233.47 665.11 L237.29 668.71 L241.79 669.83 L246.28 671.4 L251.9 672.08 L260.89 672.75 L301.4 672.75" stroke="rgb(43,86,199)" stroke-opacity="0.8" stroke-width="3.6" fill="none" stroke-linejoin="round" stroke-linecap="butt"/>
<path d="M179.3 672.75 L195.72 672.75 L200.21 671.85 L203.58 669.15 L206.51 661.29 L209.65 652.3 L211.9 645.56 L214.82 643.99 L217.07 643.31 L219.31 647.81 L222.24 656.79 L225.38 663.54 L229.43 668.71 L235.04 671.4 L242.91 672.3 L301.4 672.75" stroke="rgb(217,49,11)" stroke-opacity="0.8" stroke-width="3.6" fill="none" stroke-linejoin="round" stroke-linecap="butt"/>
<path d="M465.9 672.75 L486.21 672.75 L492.96 672.3 L499.7 671.85 L504.19 671.4 L506.89 665.78 L509.81 659.72 L512.06 654.55 L515.43 654.1 L519.92 653.87 L523.97 652.3 L526.21 656.79 L528.91 662.41 L532.28 666.91 L536.78 669.6 L542.39 671.4 L549.13 671.85 L558.12 672.3 L569.36 672.75 L588 672.75" stroke="rgb(43,86,199)" stroke-opacity="0.8" stroke-width="3.6" fill="none" stroke-linejoin="round" stroke-linecap="butt"/>
<path d="M465.9 672.75 L481.72 672.75 L486.21 671.85 L489.58 669.15 L492.51 661.29 L495.2 650.05 L497.45 641.74 L499.25 638.82 L501.49 641.06 L504.19 646.68 L506.89 655.67 L509.81 663.54 L513.18 668.71 L517.67 671.4 L524.42 672.3 L588 672.75" stroke="rgb(217,49,11)" stroke-opacity="0.8" stroke-width="3.6" fill="none" stroke-linejoin="round" stroke-linecap="butt"/>
<path d="M36 745.95 L61.71 745.95 L72.94 745.5 L81.93 745.05 L88.67 745.5 L93.17 744.38 L98.79 741.01 L103.28 737.64 L106.65 733.82 L109.35 727.52 L111.6 721.91 L114.52 719.66 L116.76 719.66 L119.01 724.15 L121.93 730.89 L125.08 736.51 L129.12 741.46 L133.62 743.25 L138.11 745.05 L158.1 745.95" stroke="rgb(43,86,199)" stroke-opacity="0.8" stroke-width="3.6" fill="none" stroke-linejoin="round" stroke-linecap="butt"/>
<path d="M36 745.95 L59.46 745.95 L62.83 744.38 L65.75 738.76 L68.45 727.52 L70.7 714.04 L72.49 703.93 L74.07 702.35 L76.31 707.3 L78.56 716.29 L80.81 729.77 L83.73 740.56 L87.55 744.38 L93.17 745.5 L158.1 745.95" stroke="rgb(217,49,11)" stroke-opacity="0.8" stroke-width="3.6" fill="none" stroke-linejoin="round" stroke-linecap="butt"/>
<path d="M322.6 745.95 L347.71 745.95 L351.75 745.05 L354.45 738.76 L357.15 723.03 L358.94 711.79 L360.29 707.3 L361.64 711.79 L363.89 725.28 L366.13 736.51 L369.06 742.13 L373.55 744.83 L381.42 745.5 L388.16 744.38 L392.65 741.01 L396.02 738.76 L399.39 737.64 L402.76 737.64 L405.69 741.01 L409.51 742.8 L414 744.38 L421.87 745.5 L444.7 745.95" stroke="rgb(43,86,199)" stroke-opacity="0.8" stroke-width="3.6" fill="none" stroke-linejoin="round" stroke-linecap="butt"/>
<path d="M322.6 745.95 L345.46 745.95 L349.51 745.05 L352.2 741.01 L354.45 728.65 L356.7 711.79 L358.49 698.31 L360.07 694.49 L361.64 700.56 L363.89 716.29 L366.13 732.02 L369.06 741.01 L373.55 744.38 L379.17 745.5 L444.7 745.95" stroke="rgb(217,49,11)" stroke-opacity="0.8" stroke-width="3.6" fill="none" stroke-linejoin="round" stroke-linecap="butt"/>
<path d="M465.9 745.95 L490.71 745.95 L494.75 745.5 L497.45 739.88 L500.15 726.4 L501.94 716.29 L503.52 710.67 L505.09 716.29 L506.89 727.52 L509.81 737.64 L513.18 742.8 L518.8 744.83 L526.66 745.5 L533.4 743.25 L537.45 741.46 L541.94 740.56 L546.89 738.76 L550.26 739.88 L553.63 742.58 L558.12 744.38 L564.87 745.5 L588 745.95" stroke="rgb(43,86,199)" stroke-opacity="0.8" stroke-width="3.6" fill="none" stroke-linejoin="round" stroke-linecap="butt"/>
<path d="M465.9 745.95 L488.46 745.95 L492.51 744.38 L495.2 739.88 L497.9 727.52 L500.15 714.04 L501.94 705.05 L503.52 701.68 L505.09 705.05 L506.89 716.29 L509.13 729.77 L512.06 739.88 L516.55 743.7 L522.17 745.5 L588 745.95" stroke="rgb(217,49,11)" stroke-opacity="0.8" stroke-width="3.6" fill="none" stroke-linejoin="round" stroke-linecap="butt"/>
<path d="M36 819.15 L61.71 819.15 L72.94 818.7 L81.93 818.25 L88.67 818.7 L93.17 817.58 L96.54 814.21 L99.46 808.59 L102.61 801.85 L105.53 797.35 L108.9 794.66 L111.6 792.86 L113.39 796.23 L116.09 802.97 L119.01 809.71 L122.38 813.08 L126.88 816.45 L131.37 818.03 L140.36 818.93 L158.1 819.15" stroke="rgb(43,86,199)" stroke-opacity="0.8" stroke-width="3.6" fill="none" stroke-linejoin="round" stroke-linecap="butt"/>
<path d="M36 819.15 L57.21 819.15 L61.71 817.58 L65.08 814.21 L67.33 805.22 L69.57 792.86 L71.82 780.5 L73.62 774.21 L75.19 777.13 L77.44 788.36 L80.13 801.85 L83.06 811.28 L86.43 816.45 L90.92 818.48 L158.1 819.15" stroke="rgb(217,49,11)" stroke-opacity="0.8" stroke-width="3.6" fill="none" stroke-linejoin="round" stroke-linecap="butt"/>
<path d="M179.3 819.15 L204.71 819.15 L208.75 818.03 L211.45 811.96 L214.15 800.72 L215.94 793.98 L217.29 790.61 L218.64 795.11 L220.89 804.09 L223.81 813.08 L227.18 817.58 L233.92 819.15 L242.91 818.48 L246.28 815.33 L249.65 810.39 L253.02 806.34 L255.27 804.54 L257.52 807.46 L260.89 811.28 L264.26 814.21 L267.63 816.45 L272.12 818.03 L281.11 819.15 L301.4 819.15" stroke="rgb(43,86,199)" stroke-opacity="0.8" stroke-width="3.6" fill="none" stroke-linejoin="round" stroke-linecap="butt"/>
<path d="M179.3 819.15 L202.46 819.15 L206.51 818.03 L209.2 813.08 L211.45 799.6 L213.7 783.87 L215.49 772.63 L217.07 768.59 L218.64 773.76 L220.89 788.36 L223.13 801.85 L226.06 811.96 L229.88 817.13 L235.04 818.7 L301.4 819.15" stroke="rgb(217,49,11)" stroke-opacity="0.8" stroke-width="3.6" fill="none" stroke-linejoin="round" stroke-linecap="butt"/>
<path d="M322.6 819.15 L347.71 819.15 L351.75 818.03 L354.45 813.08 L356.7 805.22 L358.94 796.23 L360.52 792.86 L362.09 797.35 L364.34 806.34 L366.81 814.21 L370.18 818.03 L376.92 818.93 L383.66 817.58 L388.16 814.88 L391.53 811.28 L394.9 808.59 L398.27 806.34 L401.19 808.59 L404.34 811.96 L407.93 815.33 L411.75 817.13 L417.37 818.48 L426.36 819.15 L444.7 819.15" stroke="rgb(43,86,199)" stroke-opacity="0.8" stroke-width="3.6" fill="none" stroke-linejoin="round" stroke-linecap="butt"/>
<path d="M322.6 819.15 L345.46 819.15 L349.51 817.58 L352.2 813.08 L354.9 799.6 L357.15 783.87 L358.94 774.88 L360.52 771.51 L362.31 776 L364.56 788.36 L366.81 801.85 L369.73 811.96 L373.55 817.13 L379.17 818.7 L444.7 819.15" stroke="rgb(217,49,11)" stroke-opacity="0.8" stroke-width="3.6" fill="none" stroke-linejoin="round" stroke-linecap="butt"/>
<path d="M465.9 819.15 L490.71 819.15 L494.75 818.03 L497.45 811.96 L499.7 802.97 L501.49 797.35 L503.07 795.11 L504.64 799.6 L506.89 804.09 L509.81 808.59 L513.18 814.21 L517.67 818.03 L522.17 818.03 L525.54 815.78 L528.91 811.96 L532.28 808.59 L535.65 805.89 L538.35 806.34 L541.27 809.71 L544.64 813.53 L548.01 816.45 L552.51 818.25 L560.37 818.93 L588 819.15" stroke="rgb(43,86,199)" stroke-opacity="0.8" stroke-width="3.6" fill="none" stroke-linejoin="round" stroke-linecap="butt"/>
<path d="M465.9 819.15 L488.46 819.15 L492.51 817.58 L495.2 811.96 L497.45 800.72 L499.7 788.36 L501.49 779.37 L503.07 776 L504.64 780.5 L506.89 790.61 L509.13 801.85 L512.06 810.84 L515.88 816 L521.04 818.48 L588 819.15" stroke="rgb(217,49,11)" stroke-opacity="0.8" stroke-width="3.6" fill="none" stroke-linejoin="round" stroke-linecap="butt"/>
<path d="M36 892.35 L61.71 892.35 L71.82 892.35 L78.56 891.45 L84.18 892.35 L89.8 891.45 L94.29 889.65 L97.66 890.1 L100.36 887.41 L103.28 880.66 L106.2 873.92 L108.9 868.31 L111.6 864.48 L113.84 867.18 L116.76 875.05 L120.13 880.66 L123.51 884.71 L128 887.41 L132.49 890.78 L138.11 892.35 L158.1 892.35" stroke="rgb(43,86,199)" stroke-opacity="0.8" stroke-width="3.6" fill="none" stroke-linejoin="round" stroke-linecap="butt"/>
<path d="M36 892.35 L59.46 892.35 L62.83 891.45 L65.75 887.41 L68.45 876.17 L70.7 862.69 L72.49 852.57 L74.07 846.51 L75.64 849.2 L77.44 860.44 L79.69 873.92 L82.38 885.16 L85.98 890.1 L90.92 891.9 L158.1 892.35" stroke="rgb(217,49,11)" stroke-opacity="0.8" stroke-width="3.6" fill="none" stroke-linejoin="round" stroke-linecap="butt"/>
<path d="M322.6 892.35 L347.71 892.35 L356.7 892.35 L364.56 891.23 L370.18 891.9 L375.8 892.35 L380.29 890.78 L383.66 886.28 L387.03 879.54 L389.96 872.8 L392.65 866.73 L394.9 864.48 L398.27 866.06 L400.52 870.55 L402.76 877.29 L406.13 880.66 L408.38 885.16 L411.08 888.53 L415.12 890.78 L421.87 891.9 L444.7 892.35" stroke="rgb(43,86,199)" stroke-opacity="0.8" stroke-width="3.6" fill="none" stroke-linejoin="round" stroke-linecap="butt"/>
<path d="M322.6 892.35 L345.46 892.35 L348.83 891.45 L351.75 887.41 L354.45 876.17 L356.7 860.44 L358.49 849.2 L360.07 844.26 L361.64 849.2 L363.89 862.69 L366.13 877.29 L369.06 886.96 L372.88 890.55 L379.17 891.9 L444.7 892.35" stroke="rgb(217,49,11)" stroke-opacity="0.8" stroke-width="3.6" fill="none" stroke-linejoin="round" stroke-linecap="butt"/>
<path d="M465.9 892.35 L490.71 892.35 L497.45 892.35 L506.44 891.9 L510.93 890.1 L514.3 891.45 L519.92 891.9 L523.97 890.1 L527.79 885.16 L531.16 879.54 L534.53 873.92 L537.9 869.43 L541.27 867.18 L544.64 869.43 L546.89 873.92 L549.58 881.79 L552.51 886.28 L555.88 888.53 L560.37 890.1 L567.11 891.45 L588 892.35" stroke="rgb(43,86,199)" stroke-opacity="0.8" stroke-width="3.6" fill="none" stroke-linejoin="round" stroke-linecap="butt"/>
<path d="M465.9 892.35 L488.46 892.35 L492.51 890.78 L495.2 886.28 L497.9 873.92 L500.15 858.19 L501.94 849.2 L503.52 846.96 L505.09 852.57 L506.89 864.93 L509.13 878.42 L512.06 887.41 L516.55 890.78 L522.17 891.9 L588 892.35" stroke="rgb(217,49,11)" stroke-opacity="0.8" stroke-width="3.6" fill="none" stroke-linejoin="round" stroke-linecap="butt"/>
<path d="M30.2 23.2V90.2M30.2 96.4V163.4M30.2 169.6V236.6M30.2 242.8V309.8M30.2 316V383M30.2 389.2V456.2M30.2 462.4V529.4M30.2 535.6V602.6M30.2 608.8V675.8M30.2 682V749M30.2 755.2V822.2M30.2 828.4V895.4M28.6 895.4H164.2M173.5 895.4H307.5M316.8 895.4H450.8M460.1 895.4H594.1" stroke="#000" stroke-width="3.2" fill="none"/>
<rect x="30.2" y="1.35" width="134" height="21.85" fill="#fff" stroke="#000" stroke-width="2.8"/>
<text transform="translate(95.7 19) scale(1.02 1)" font-size="19" text-anchor="middle">Ancestor</text>
<rect x="173.5" y="1.35" width="134" height="21.85" fill="#fff" stroke="#000" stroke-width="2.8"/>
<g transform="translate(243.4 19) scale(1.035 1)"><path transform="translate(-5.28 0) scale(19 -19)" d="M0.35 0L0.35 0.72L0.275 0.72C0.245 0.645 0.17 0.605 0.075 0.6L0.075 0.515C0.15 0.52 0.21 0.54 0.25 0.575L0.25 0Z"/></g>
<rect x="316.8" y="1.35" width="134" height="21.85" fill="#fff" stroke="#000" stroke-width="2.8"/>
<g transform="translate(383.8 19) scale(1.035 1)"><text x="-5.28" y="0" font-size="19">2</text></g>
<rect x="460.1" y="1.35" width="134" height="21.85" fill="#fff" stroke="#000" stroke-width="2.8"/>
<g transform="translate(527.1 19) scale(1.035 1)"><text x="-5.28" y="0" font-size="19">3</text></g>
<rect x="593.9" y="23.2" width="27.3" height="67" fill="#fff" stroke="#000" stroke-width="2.8"/>
<g transform="translate(612.9 58.7) rotate(-90) scale(1.035 1)"><text x="-12.14" y="0" font-size="19">D</text><path transform="translate(1.58 0) scale(19 -19)" d="M0.35 0L0.35 0.72L0.275 0.72C0.245 0.645 0.17 0.605 0.075 0.6L0.075 0.515C0.15 0.52 0.21 0.54 0.25 0.575L0.25 0Z"/></g>
<rect x="593.9" y="96.4" width="27.3" height="67" fill="#fff" stroke="#000" stroke-width="2.8"/>
<g transform="translate(612.9 130.7) rotate(-90) scale(1.035 1)"><text x="-12.14" y="0" font-size="19">D2</text></g>
<rect x="593.9" y="169.6" width="27.3" height="67" fill="#fff" stroke="#000" stroke-width="2.8"/>
<g transform="translate(612.9 203.25) rotate(-90) scale(1.035 1)"><text x="-12.14" y="0" font-size="19">D5</text></g>
<rect x="593.9" y="242.8" width="27.3" height="67" fill="#fff" stroke="#000" stroke-width="2.8"/>
<g transform="translate(612.9 275.4) rotate(-90) scale(1.035 1)"><text x="-12.14" y="0" font-size="19">D8</text></g>
<rect x="593.9" y="316" width="27.3" height="67" fill="#fff" stroke="#000" stroke-width="2.8"/>
<g transform="translate(612.9 348.95) rotate(-90) scale(1.035 1)"><text x="-12.14" y="0" font-size="19">D9</text></g>
<rect x="593.9" y="389.2" width="27.3" height="67" fill="#fff" stroke="#000" stroke-width="2.8"/>
<g transform="translate(612.9 424.35) rotate(-90) scale(1.035 1)"><text x="-17.42" y="0" font-size="19">D</text><path transform="translate(-3.71 0) scale(19 -19)" d="M0.35 0L0.35 0.72L0.275 0.72C0.245 0.645 0.17 0.605 0.075 0.6L0.075 0.515C0.15 0.52 0.21 0.54 0.25 0.575L0.25 0Z"/><text x="6.86" y="0" font-size="19">0</text></g>
<rect x="593.9" y="462.4" width="27.3" height="67" fill="#fff" stroke="#000" stroke-width="2.8"/>
<g transform="translate(612.9 495.8) rotate(-90) scale(1.035 1)"><text x="-17.42" y="0" font-size="19">D</text><path transform="translate(-3.71 0) scale(19 -19)" d="M0.35 0L0.35 0.72L0.275 0.72C0.245 0.645 0.17 0.605 0.075 0.6L0.075 0.515C0.15 0.52 0.21 0.54 0.25 0.575L0.25 0Z"/><path transform="translate(6.86 0) scale(19 -19)" d="M0.35 0L0.35 0.72L0.275 0.72C0.245 0.645 0.17 0.605 0.075 0.6L0.075 0.515C0.15 0.52 0.21 0.54 0.25 0.575L0.25 0Z"/></g>
<rect x="593.9" y="535.6" width="27.3" height="67" fill="#fff" stroke="#000" stroke-width="2.8"/>
<g transform="translate(612.9 571.95) rotate(-90) scale(1.035 1)"><text x="-17.42" y="0" font-size="19">D</text><path transform="translate(-3.71 0) scale(19 -19)" d="M0.35 0L0.35 0.72L0.275 0.72C0.245 0.645 0.17 0.605 0.075 0.6L0.075 0.515C0.15 0.52 0.21 0.54 0.25 0.575L0.25 0Z"/><text x="6.86" y="0" font-size="19">2</text></g>
<rect x="593.9" y="608.8" width="27.3" height="67" fill="#fff" stroke="#000" stroke-width="2.8"/>
<g transform="translate(612.9 643.2) rotate(-90) scale(1.035 1)"><text x="-17.42" y="0" font-size="19">D</text><path transform="translate(-3.71 0) scale(19 -19)" d="M0.35 0L0.35 0.72L0.275 0.72C0.245 0.645 0.17 0.605 0.075 0.6L0.075 0.515C0.15 0.52 0.21 0.54 0.25 0.575L0.25 0Z"/><text x="6.86" y="0" font-size="19">3</text></g>
<rect x="593.9" y="682" width="27.3" height="67" fill="#fff" stroke="#000" stroke-width="2.8"/>
<g transform="translate(612.9 716.05) rotate(-90) scale(1.035 1)"><text x="-17.42" y="0" font-size="19">D</text><path transform="translate(-3.71 0) scale(19 -19)" d="M0.35 0L0.35 0.72L0.275 0.72C0.245 0.645 0.17 0.605 0.075 0.6L0.075 0.515C0.15 0.52 0.21 0.54 0.25 0.575L0.25 0Z"/><text x="6.86" y="0" font-size="19">4</text></g>
<rect x="593.9" y="755.2" width="27.3" height="67" fill="#fff" stroke="#000" stroke-width="2.8"/>
<g transform="translate(612.9 789.6) rotate(-90) scale(1.035 1)"><text x="-17.42" y="0" font-size="19">D</text><path transform="translate(-3.71 0) scale(19 -19)" d="M0.35 0L0.35 0.72L0.275 0.72C0.245 0.645 0.17 0.605 0.075 0.6L0.075 0.515C0.15 0.52 0.21 0.54 0.25 0.575L0.25 0Z"/><text x="6.86" y="0" font-size="19">5</text></g>
<rect x="593.9" y="828.4" width="27.3" height="67" fill="#fff" stroke="#000" stroke-width="2.8"/>
<g transform="translate(612.9 860.05) rotate(-90) scale(1.035 1)"><text x="-17.42" y="0" font-size="19">D</text><path transform="translate(-3.71 0) scale(19 -19)" d="M0.35 0L0.35 0.72L0.275 0.72C0.245 0.645 0.17 0.605 0.075 0.6L0.075 0.515C0.15 0.52 0.21 0.54 0.25 0.575L0.25 0Z"/><text x="6.86" y="0" font-size="19">6</text></g>
<g transform="translate(36 918.7) scale(1.035 1)"><text x="-5.28" y="0" font-size="19">0</text></g>
<g transform="translate(76.7 918.7) scale(1.035 1)"><path transform="translate(-5.28 0) scale(19 -19)" d="M0.35 0L0.35 0.72L0.275 0.72C0.245 0.645 0.17 0.605 0.075 0.6L0.075 0.515C0.15 0.52 0.21 0.54 0.25 0.575L0.25 0Z"/></g>
<g transform="translate(117.4 918.7) scale(1.035 1)"><text x="-5.28" y="0" font-size="19">2</text></g>
<g transform="translate(158.1 918.7) scale(1.035 1)"><text x="-5.28" y="0" font-size="19">3</text></g>
<g transform="translate(179.3 918.7) scale(1.035 1)"><text x="-5.28" y="0" font-size="19">0</text></g>
<g transform="translate(220 918.7) scale(1.035 1)"><path transform="translate(-5.28 0) scale(19 -19)" d="M0.35 0L0.35 0.72L0.275 0.72C0.245 0.645 0.17 0.605 0.075 0.6L0.075 0.515C0.15 0.52 0.21 0.54 0.25 0.575L0.25 0Z"/></g>
<g transform="translate(260.7 918.7) scale(1.035 1)"><text x="-5.28" y="0" font-size="19">2</text></g>
<g transform="translate(301.4 918.7) scale(1.035 1)"><text x="-5.28" y="0" font-size="19">3</text></g>
<g transform="translate(322.6 918.7) scale(1.035 1)"><text x="-5.28" y="0" font-size="19">0</text></g>
<g transform="translate(363.3 918.7) scale(1.035 1)"><path transform="translate(-5.28 0) scale(19 -19)" d="M0.35 0L0.35 0.72L0.275 0.72C0.245 0.645 0.17 0.605 0.075 0.6L0.075 0.515C0.15 0.52 0.21 0.54 0.25 0.575L0.25 0Z"/></g>
<g transform="translate(404 918.7) scale(1.035 1)"><text x="-5.28" y="0" font-size="19">2</text></g>
<g transform="translate(444.7 918.7) scale(1.035 1)"><text x="-5.28" y="0" font-size="19">3</text></g>
<g transform="translate(465.9 918.7) scale(1.035 1)"><text x="-5.28" y="0" font-size="19">0</text></g>
<g transform="translate(506.6 918.7) scale(1.035 1)"><path transform="translate(-5.28 0) scale(19 -19)" d="M0.35 0L0.35 0.72L0.275 0.72C0.245 0.645 0.17 0.605 0.075 0.6L0.075 0.515C0.15 0.52 0.21 0.54 0.25 0.575L0.25 0Z"/></g>
<g transform="translate(547.3 918.7) scale(1.035 1)"><text x="-5.28" y="0" font-size="19">2</text></g>
<g transform="translate(588 918.7) scale(1.035 1)"><text x="-5.28" y="0" font-size="19">3</text></g>
<text transform="translate(236.6 946.2) scale(1.035 1)" font-size="19">DNA reads per gene</text>
<text transform="translate(13.6 424.2) rotate(-90) scale(1.03 1)" font-size="19" text-anchor="middle">Density</text>
<text transform="translate(179.5 989.8) scale(1.031 1)" font-size="19">Chromosome</text>
<path d="M308.3 973.2H348" stroke="rgb(43,86,199)" stroke-opacity="0.8" stroke-width="7.6"/>
<path d="M308.3 998H348" stroke="rgb(217,49,11)" stroke-opacity="0.8" stroke-width="7.6"/>
<text transform="translate(353.4 978.4) scale(1.048 1)" font-size="16">Disomic</text>
<text transform="translate(353.5 1003.2) scale(1.05 1)" font-size="16">Other</text>
</g></svg></div></body></html>
